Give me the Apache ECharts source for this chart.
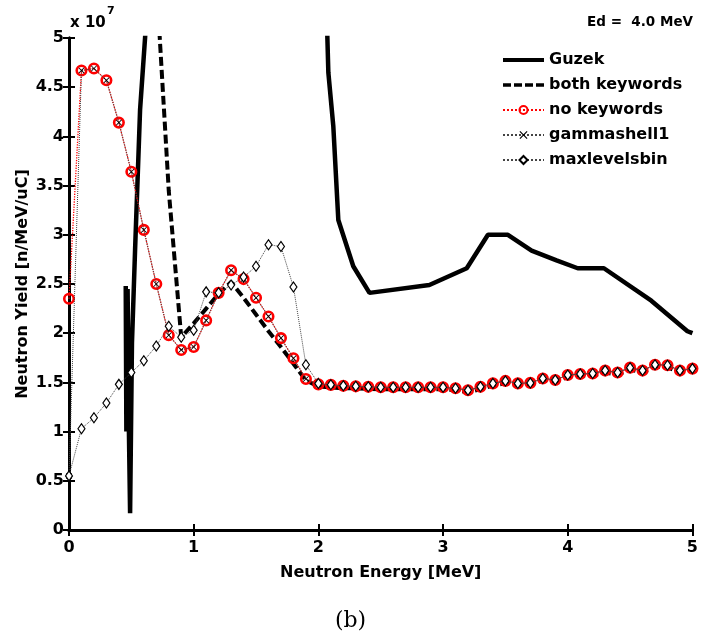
<!DOCTYPE html>
<html>
<head>
<meta charset="utf-8">
<script src="https://cdn.jsdelivr.net/npm/echarts@6/dist/echarts.min.js"></script>
<style>
html,body{margin:0;padding:0;background:#fff;}
#chart{width:701px;height:640px;}
</style>
</head>
<body>
<div id="chart"></div>
<script>
// Energies (MeV) of the simulated spectra
var energies = [0.0,0.1,0.2,0.3,0.4,0.5,0.6,0.7,0.8,0.9,1.0,1.1,1.2,1.3,1.4,1.5,1.6,1.7,1.8,1.9,2.0,2.1,2.2,2.3,2.4,2.5,2.6,2.7,2.8,2.9,3.0,3.1,3.2,3.3,3.4,3.5,3.6,3.7,3.8,3.9,4.0,4.1,4.2,4.3,4.4,4.5,4.6,4.7,4.8,4.9,5.0];

// Yields in units of 1e7 n/MeV/uC
var noKeywords = [2.35,4.67,4.69,4.57,4.14,3.64,3.05,2.50,1.98,1.83,1.86,2.13,2.41,2.64,2.55,2.36,2.17,1.95,1.745,1.535,1.48,1.475,1.465,1.46,1.455,1.45,1.45,1.45,1.45,1.45,1.45,1.44,1.42,1.455,1.49,1.515,1.49,1.495,1.54,1.525,1.575,1.585,1.59,1.62,1.60,1.65,1.62,1.68,1.675,1.62,1.64];

var gammashell1 = [0.55,4.67,4.69,4.57,4.14,3.64,3.05,2.50,1.98,1.83,1.86,2.13,2.41,2.64,2.55,2.36,2.17,1.95,1.745,1.535,1.48,1.475,1.465,1.46,1.455,1.45,1.45,1.45,1.45,1.45,1.45,1.44,1.42,1.455,1.49,1.515,1.49,1.495,1.54,1.525,1.575,1.585,1.59,1.62,1.60,1.65,1.62,1.68,1.675,1.62,1.64];

var maxlevelsbin = [0.55,1.03,1.14,1.29,1.48,1.60,1.72,1.87,2.07,1.96,2.03,2.42,2.41,2.49,2.57,2.68,2.90,2.88,2.47,1.68,1.49,1.475,1.465,1.46,1.455,1.45,1.45,1.45,1.45,1.45,1.45,1.44,1.42,1.455,1.49,1.515,1.49,1.495,1.54,1.525,1.575,1.585,1.59,1.62,1.60,1.65,1.62,1.68,1.675,1.62,1.64];

// "both keywords" (values for E < 0.7 MeV lie above the plotted range)
var bothEnergies = [0.7,0.8,0.9,1.0,1.1,1.2,1.3,1.4,1.5,1.6,1.7,1.8,1.9,2.0,2.1,2.2,2.3,2.4,2.5,2.6,2.7,2.8,2.9,3.0,3.1,3.2,3.3,3.4,3.5,3.6,3.7,3.8,3.9,4.0,4.1,4.2,4.3,4.4,4.5,4.6,4.7,4.8,4.9,5.0];
var bothKeywords = [5.6,3.45,1.96,2.10,2.25,2.40,2.52,2.36,2.19,2.02,1.86,1.69,1.52,1.46,1.45,1.44,1.44,1.435,1.43,1.43,1.43,1.43,1.43,1.43,1.42,1.40,1.43,1.47,1.49,1.47,1.475,1.52,1.505,1.555,1.565,1.57,1.60,1.58,1.63,1.60,1.66,1.655,1.60,1.62];

// Guzek measurement
var guzekE = [0.455,0.46,0.47,0.48,0.49,0.505,0.53,0.57,0.61,0.65,2.05,2.08,2.12,2.16,2.28,2.41,2.89,3.19,3.36,3.52,3.71,3.91,4.08,4.29,4.67,4.96,5.0];
var guzekY = [2.48,1.0,2.45,1.05,0.17,1.9,2.85,4.27,5.0,5.8,6.0,4.65,4.1,3.15,2.68,2.41,2.49,2.66,3.0,3.0,2.84,2.74,2.66,2.66,2.33,2.02,2.0];

var xTicks = [0,1,2,3,4,5];
var yTicks = [0,0.5,1,1.5,2,2.5,3,3.5,4,4.5,5];

function pairs(xs, ys){ return xs.map(function(x,i){ return [x, ys[i]]; }); }

var FONT = 'DejaVu Sans';
var crossPath = 'path://M0,1L1,0L5,4L9,0L10,1L6,5L10,9L9,10L5,6L1,10L0,9L4,5Z';
var solidIcon = 'path://M0,3h41v4h-41z M0,0h0.01v10h-0.01z';
var dashIcon = 'path://M0,3.2h8v3.6h-8z M11,3.2h8v3.6h-8z M22,3.2h8v3.6h-8z M33,3.2h8v3.6h-8z M0,0h0.01v10h-0.01z';

var chart = echarts.init(document.getElementById('chart'), null, {renderer:'canvas'});
var legendText = {fontFamily:FONT, fontWeight:'bold', fontSize:16, color:'#000'};
var option = {
  animation:false,
  backgroundColor:'#fff',
  grid:{left:69, right:8, top:38, bottom:110, containLabel:false},
  legend:{
    orient:'vertical', left:502, top:52, padding:0,
    itemWidth:41, itemHeight:10, itemGap:9,
    symbolKeepAspect:false,
    textStyle:legendText,
    data:[
      {name:'Guzek', icon:solidIcon, itemStyle:{color:'#000', borderWidth:0}},
      {name:'both keywords', icon:dashIcon, itemStyle:{color:'#000', borderWidth:0}},
      {name:'no keywords'},
      {name:'gammashell1'},
      {name:'maxlevelsbin'}
    ]
  },
  xAxis:[{
    type:'value', min:xTicks[0], max:xTicks[xTicks.length-1], interval:1, position:'bottom',
    name:'Neutron Energy [MeV]', nameLocation:'middle', nameGap:35, nameMoveOverlap:false,
    nameTextStyle:{fontFamily:FONT, fontWeight:'bold', fontSize:16, color:'#000'},
    axisLine:{show:true, lineStyle:{color:'#000', width:3}},
    axisTick:{show:true, inside:true, length:6, lineStyle:{color:'#000', width:2}},
    axisLabel:{fontFamily:FONT, fontWeight:'bold', fontSize:16, color:'#000', margin:10},
    splitLine:{show:false}
  },{
    type:'value', min:0, max:5, interval:1, position:'top',
    axisLine:{show:true, lineStyle:{color:'#000', width:3}},
    axisTick:{show:true, inside:true, length:6, lineStyle:{color:'#000', width:2}},
    axisLabel:{show:false}, splitLine:{show:false}
  }],
  yAxis:[{
    type:'value', min:yTicks[0], max:yTicks[yTicks.length-1], interval:0.5, position:'left',
    name:'Neutron Yield [n/MeV/uC]', nameLocation:'middle', nameGap:38, nameMoveOverlap:false,
    nameTextStyle:{fontFamily:FONT, fontWeight:'bold', fontSize:16, color:'#000'},
    axisLine:{show:true, lineStyle:{color:'#000', width:3}},
    axisTick:{show:true, inside:true, length:6, lineStyle:{color:'#000', width:2}},
    axisLabel:{fontFamily:FONT, fontWeight:'bold', fontSize:16, color:'#000', margin:5},
    splitLine:{show:false}
  },{
    type:'value', min:0, max:5, interval:0.5, position:'right',
    axisLine:{show:true, lineStyle:{color:'#000', width:3}},
    axisTick:{show:true, inside:true, length:6, lineStyle:{color:'#000', width:2}},
    axisLabel:{show:false}, splitLine:{show:false}
  }],
  graphic:[
    {type:'text', left:70, top:16, style:{text:'x 10', fontFamily:FONT, fontWeight:'bold', fontSize:15, fill:'#000'}},
    {type:'text', left:107, top:6, style:{text:'7', fontFamily:FONT, fontWeight:'bold', fontSize:11, fill:'#000'}},
    {type:'text', right:8, top:15, style:{text:'Ed =  4.0 MeV', fontFamily:FONT, fontWeight:'bold', fontSize:13.5, fill:'#000'}},
    {type:'text', left:'center', top:610, style:{text:'(b)', fontFamily:'DejaVu Serif', fontSize:22, fill:'#000'}}
  ],
  series:[
    {name:'Guzek', type:'line', data:pairs(guzekE, guzekY), showSymbol:false, symbol:'none', clip:true,
     lineStyle:{color:'#000', width:4.5}, itemStyle:{color:'#000'}, z:2},
    {name:'both keywords', type:'line', data:pairs(bothEnergies, bothKeywords), showSymbol:false, symbol:'none', clip:true,
     lineStyle:{color:'#000', width:4, type:[9,4]}, itemStyle:{color:'#000'}, z:3},
    {name:'no keywords', type:'line', data:pairs(energies, noKeywords), symbol:'circle', symbolSize:9.5, clip:true,
     lineStyle:{color:'#ff0000', width:1.3, type:'dotted'},
     itemStyle:{color:'rgba(0,0,0,0)', borderColor:'#ff0000', borderWidth:2.6}, z:4},
    {name:'gammashell1', type:'line', data:pairs(energies, gammashell1), symbol:crossPath, symbolSize:6, clip:true,
     lineStyle:{color:'#444', width:1, type:'dotted'},
     itemStyle:{color:'#000'}, z:5},
    {name:'maxlevelsbin', type:'line', data:pairs(energies, maxlevelsbin), symbol:'diamond', symbolSize:[7,10], clip:true,
     lineStyle:{color:'#444', width:1, type:'dotted'},
     itemStyle:{color:'#fff', borderColor:'#000', borderWidth:1.2}, z:6}
  ]
};
chart.setOption(option);
</script>
</body>
</html>
